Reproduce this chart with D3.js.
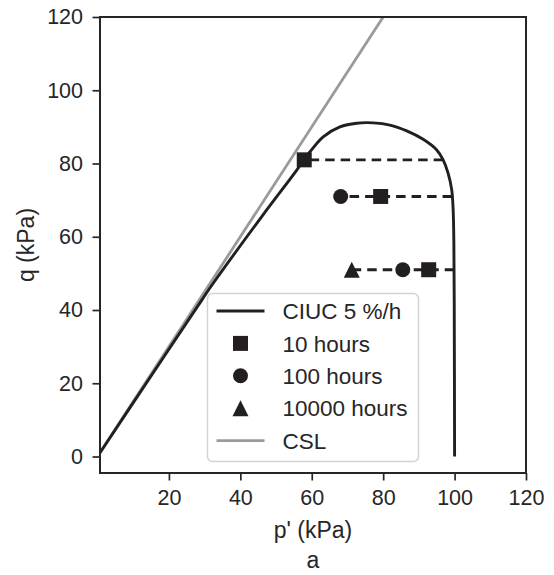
<!DOCTYPE html>
<html>
<head>
<meta charset="utf-8">
<script src="https://cdn.jsdelivr.net/npm/d3@7"></script>
<style>
  html, body { margin: 0; padding: 0; background: #fff; }
  svg { display: block; font-family: "Liberation Sans", Arial, sans-serif; }
</style>
</head>
<body>
<svg id="chart" width="554" height="575"></svg>
<script>
// Undrained stress path (CIUC 5 %/h), mean effective stress p' vs deviator q
const curveP = [0, 15, 29.2, 32.4, 46, 55.8, 57.8, 59.5, 63.2, 67.9, 72.6, 77.2, 81.9, 86.6, 91.2, 95.0, 96.8, 98.2, 99.2, 99.6, 99.8, 99.9, 100];
const curveQ = [0, 22, 42.7, 47.3, 65.5, 78.2, 81.0, 83.2, 87.3, 90.0, 91.0, 91.1, 90.5, 88.9, 86.6, 83.7, 81.0, 77.3, 72.8, 67.3, 58.3, 42.7, 0];

// Creep stages: states reached after 10, 100 and 10000 hours
const p10h = [57.9, 79.3, 92.75];
const q10h = [81, 71, 51];
const p100h = [68.1, 85.5];
const q100h = [71, 51];
const p10000h = [71.2];
const q10000h = [51];

// Dashed constant-q creep paths (start on the curve, end at the furthest state)
const creepQ = [81, 71, 51];
const creepStartP = [96.8, 99.3, 99.9];
const creepEndP = [57.9, 68.1, 71.2];

// Critical state line q = M p'
const cslM = 1.5;
const cslP = [0, 120];

const xTicks = [20, 40, 60, 80, 100, 120];
const yTicks = [0, 20, 40, 60, 80, 100, 120];

const legendLabels = ["CIUC 5 %/h", "10 hours", "100 hours", "10000 hours", "CSL"];

const ink = "#231f20";
const axisInk = "#262626";
const cslGray = "#9a9a9a";

const margin = { left: 100, right: 28, top: 17, bottom: 102 };
const W = 554, H = 575;
const svg = d3.select("#chart");

const x = d3.scaleLinear().domain([0.7, 120]).range([margin.left, W - margin.right]);
const y = d3.scaleLinear().domain([-4.5, 120]).range([H - margin.bottom, margin.top]);

svg.append("defs").append("clipPath").attr("id", "plotclip")
  .append("rect")
  .attr("x", x.range()[0]).attr("y", y.range()[1])
  .attr("width", x.range()[1] - x.range()[0])
  .attr("height", y.range()[0] - y.range()[1]);

const plot = svg.append("g").attr("clip-path", "url(#plotclip)");

// CSL
plot.append("path")
  .datum(cslP.map(p => [p, cslM * p]))
  .attr("d", d3.line().x(d => x(d[0])).y(d => y(d[1])))
  .attr("fill", "none").attr("stroke", cslGray).attr("stroke-width", 2.8);

// Stress path
plot.append("path")
  .datum(curveP.map((p, i) => [p, curveQ[i]]))
  .attr("d", d3.line().x(d => x(d[0])).y(d => y(d[1])).curve(d3.curveCatmullRom.alpha(0.5)))
  .attr("fill", "none").attr("stroke", ink).attr("stroke-width", 2.9)
  .attr("stroke-linejoin", "round");

// Creep paths
plot.selectAll("line.creep")
  .data(creepQ.map((q, i) => ({ q, p0: creepStartP[i], p1: creepEndP[i] })))
  .join("line").attr("class", "creep")
  .attr("x1", d => x(d.p0)).attr("x2", d => x(d.p1))
  .attr("y1", d => y(d.q)).attr("y2", d => y(d.q))
  .attr("stroke", ink).attr("stroke-width", 2.9)
  .attr("stroke-dasharray", "9.5,6");

// Markers
const sqSym = d3.symbol().type(d3.symbolSquare).size(15 * 15);
const ciSym = d3.symbol().type(d3.symbolCircle).size(Math.PI * 7.5 * 7.5);
function triPath(s) {
  const h = s / 2;
  return `M0,${-h}L${h},${h}L${-h},${h}Z`;
}

plot.selectAll("path.sq")
  .data(p10h.map((p, i) => [p, q10h[i]]))
  .join("path").attr("class", "sq")
  .attr("d", sqSym())
  .attr("transform", d => `translate(${x(d[0])},${y(d[1])})`)
  .attr("fill", ink);

plot.selectAll("path.ci")
  .data(p100h.map((p, i) => [p, q100h[i]]))
  .join("path").attr("class", "ci")
  .attr("d", ciSym())
  .attr("transform", d => `translate(${x(d[0])},${y(d[1])})`)
  .attr("fill", ink);

plot.selectAll("path.tri")
  .data(p10000h.map((p, i) => [p, q10000h[i]]))
  .join("path").attr("class", "tri")
  .attr("d", triPath(16))
  .attr("transform", d => `translate(${x(d[0])},${y(d[1])})`)
  .attr("fill", ink);

// Axes
const xAxis = svg.append("g")
  .attr("transform", `translate(0,${y.range()[0]})`)
  .call(d3.axisBottom(x).tickValues(xTicks).tickSize(7.5).tickPadding(9.5).tickFormat(d3.format("d")));
const yAxis = svg.append("g")
  .attr("transform", `translate(${x.range()[0]},0)`)
  .call(d3.axisLeft(y).tickValues(yTicks).tickSize(7.5).tickPadding(9.5).tickFormat(d3.format("d")));

[xAxis, yAxis].forEach(a => {
  a.select(".domain").remove();
  a.selectAll(".tick line").attr("stroke", axisInk).attr("stroke-width", 1.7);
  a.selectAll(".tick text").attr("fill", axisInk).attr("font-size", 21.5)
    .attr("font-family", "Liberation Sans, Arial, sans-serif");
});

// Frame
svg.append("rect")
  .attr("x", x.range()[0]).attr("y", y.range()[1])
  .attr("width", x.range()[1] - x.range()[0])
  .attr("height", y.range()[0] - y.range()[1])
  .attr("fill", "none").attr("stroke", axisInk).attr("stroke-width", 2);

// Axis labels
svg.append("text")
  .attr("x", (x.range()[0] + x.range()[1]) / 2).attr("y", 538)
  .attr("text-anchor", "middle").attr("font-size", 23).attr("fill", axisInk)
  .text("p' (kPa)");
svg.append("text")
  .attr("transform", `translate(34,${(y.range()[0] + y.range()[1]) / 2}) rotate(-90)`)
  .attr("text-anchor", "middle").attr("font-size", 23).attr("fill", axisInk)
  .text("q (kPa)");
svg.append("text")
  .attr("x", (x.range()[0] + x.range()[1]) / 2).attr("y", 568)
  .attr("text-anchor", "middle").attr("font-size", 23).attr("fill", axisInk)
  .text("a");

// Legend
const lg = svg.append("g").attr("transform", "translate(207.5,293.5)");
lg.append("rect")
  .attr("width", 211).attr("height", 168).attr("rx", 5)
  .attr("fill", "#fff").attr("fill-opacity", 0.85)
  .attr("stroke", "#d4d4d4").attr("stroke-width", 1.5);

const rowY = i => 17.5 + i * 32.4;
const handleX0 = 9, handleX1 = 57, handleCX = 33, textX = 75;
legendLabels.forEach((label, i) => {
  const g = lg.append("g").attr("transform", `translate(0,${rowY(i)})`);
  if (i === 0 || i === 4) {
    g.append("line").attr("x1", handleX0).attr("x2", handleX1)
      .attr("stroke", i === 0 ? ink : cslGray).attr("stroke-width", 2.9);
  } else if (i === 1) {
    g.append("path").attr("d", sqSym()).attr("transform", `translate(${handleCX},0)`).attr("fill", ink);
  } else if (i === 2) {
    g.append("path").attr("d", ciSym()).attr("transform", `translate(${handleCX},0)`).attr("fill", ink);
  } else {
    g.append("path").attr("d", triPath(16)).attr("transform", `translate(${handleCX},0)`).attr("fill", ink);
  }
  g.append("text").attr("x", textX).attr("y", 0).attr("dy", "0.36em")
    .attr("font-size", 22.5).attr("fill", axisInk).text(label);
});
</script>
</body>
</html>
